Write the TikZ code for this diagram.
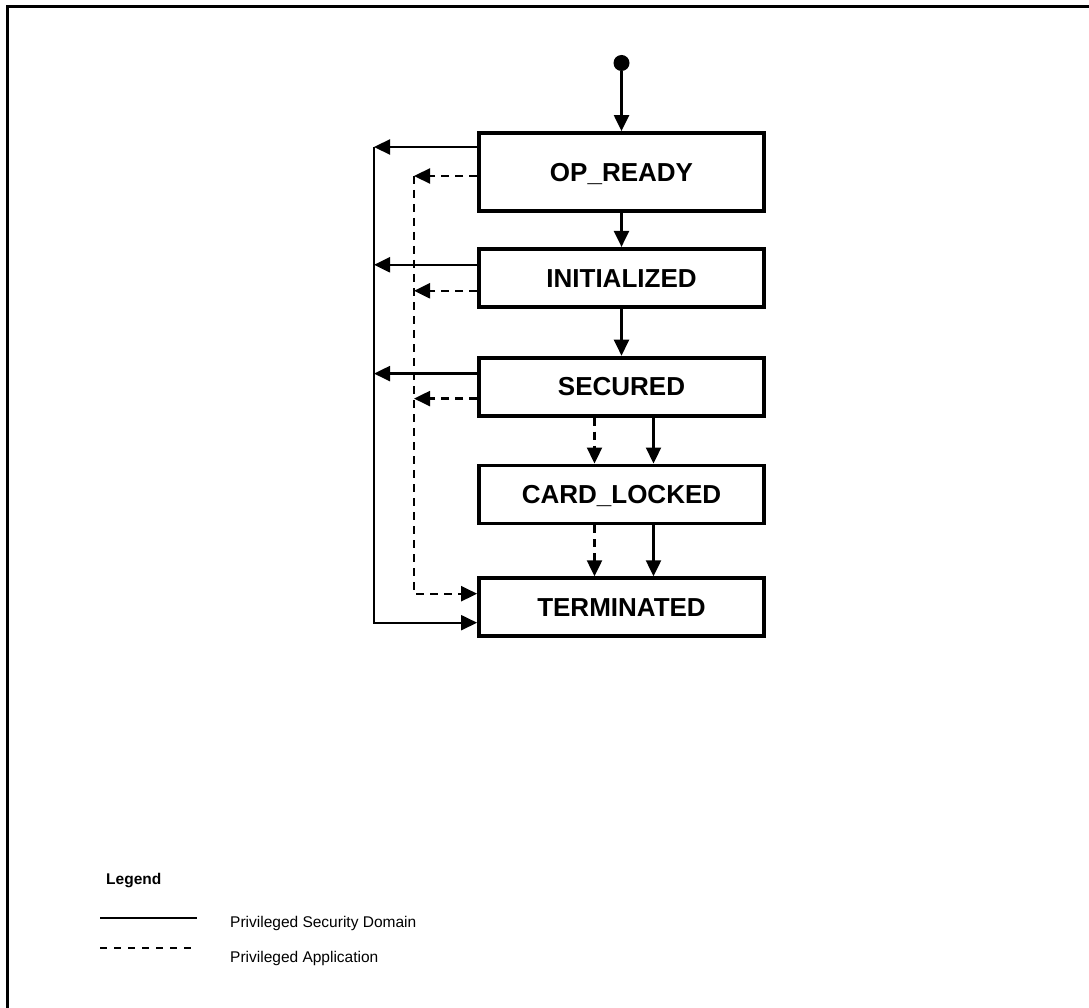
\documentclass[tikz,border=0pt]{standalone}
\usepackage{fontspec}
\setmainfont{Liberation Sans}
\usetikzlibrary{arrows.meta, positioning}

\begin{document}
\begin{tikzpicture}[x=1pt, y=-1pt,
			state/.style={draw, line width=3.8pt, rectangle, inner sep=0pt, minimum width=285pt, minimum height=58pt, font=\fontsize{26}{30}\selectfont\bfseries, text height=18.6pt, text depth=0pt},
			psdline/.style={line width=2.3pt, -{Triangle[length=16pt, width=15pt]}},
			paline/.style={line width=2.3pt, dash pattern=on 8pt off 6pt, -{Triangle[length=16pt, width=15pt]}},
			legendtext/.style={font=\fontsize{15.5}{18}\selectfont, anchor=base west, inner sep=0pt}
		]
			\useasboundingbox (0,0) rectangle (1089,1008);
			\draw[line width=3pt] (7,1008) -- (7,7) -- (1089,7);

			\node (start) [circle, fill, inner sep=0pt, minimum size=16pt] at (621.5,63) {};
			\node (opready) [state, minimum height=78pt] at (621.5,172) {OP\_READY};
			\node (initialized) [state, below=34pt of opready] {INITIALIZED};
			\node (secured) [state, below=47pt of initialized] {SECURED};
			\node (cardlocked) [state, below=46pt of secured] {CARD\_LOCKED};
			\node (terminated) [state, below=51pt of cardlocked] {TERMINATED};

			% bus lines on the left
			\coordinate (psdbus) at (374,0);
			\coordinate (pabus) at (414,0);
			\coordinate (opreadyS) at ([yshift=25pt]opready.west);
			\coordinate (opreadyP) at ([yshift=-4pt]opready.west);
			\coordinate (initializedS) at ([yshift=13pt]initialized.west);
			\coordinate (initializedP) at ([yshift=-13pt]initialized.west);
			\coordinate (securedS) at ([yshift=13pt]secured.west);
			\coordinate (securedP) at ([yshift=-12pt]secured.west);
			\coordinate (terminatedP) at ([yshift=13.5pt]terminated.west);
			\coordinate (terminatedS) at ([yshift=-15.5pt]terminated.west);

			\draw[psdline] (start) -- (opready);
			\draw[psdline] (opready) -- (initialized);
			\draw[psdline] (initialized) -- (secured);
			\draw[paline] ([xshift=-27pt]secured.south) -- ([xshift=-27pt]cardlocked.north);
			\draw[psdline] ([xshift=32pt]secured.south) -- ([xshift=32pt]cardlocked.north);
			\draw[paline] ([xshift=-27pt]cardlocked.south) -- ([xshift=-27pt]terminated.north);
			\draw[psdline] ([xshift=32pt]cardlocked.south) -- ([xshift=32pt]terminated.north);

			\draw[psdline] (opreadyS) -- (opreadyS -| psdbus);
			\draw[paline] (opreadyP) -- (opreadyP -| pabus);
			\draw[psdline] (initializedS) -- (initializedS -| psdbus);
			\draw[paline] (initializedP) -- (initializedP -| pabus);
			\draw[psdline] (securedS) -- (securedS -| psdbus);
			\draw[paline] (securedP) -- (securedP -| pabus);

			\draw[psdline, line width=1.9pt] (opreadyS -| psdbus) |- (terminatedS);
			\draw[paline] (opreadyP -| pabus) |- (terminatedP);

			% legend
			\node (legendtitle) [legendtext, font=\fontsize{15.5}{18}\selectfont\bfseries] at (106,884) {Legend};
			\node (keypsd) [legendtext] at (230,927) {Privileged Security Domain};
			\node (keypa) [legendtext] at (230,962) {Privileged Application};
			\coordinate (keypsdA) at (100,918);
			\coordinate (keypsdB) at (197,918);
			\coordinate (keypaA) at (100,948);
			\coordinate (keypaB) at (192,948);
			\draw[line width=2.5pt] (keypsdA) -- (keypsdB);
			\draw[line width=1.7pt, dash pattern=on 7pt off 7pt] (keypaA) -- (keypaB);
		\end{tikzpicture}
\end{document}
